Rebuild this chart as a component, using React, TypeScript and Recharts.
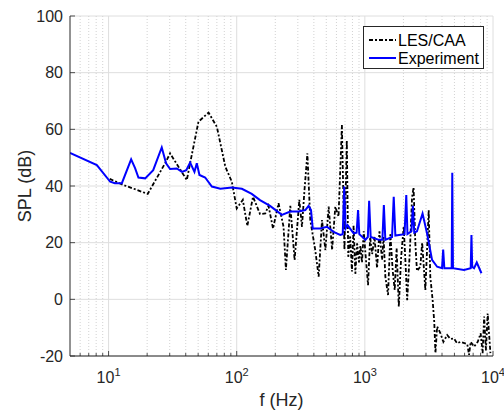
import { LineChart, Line, XAxis, YAxis, CartesianGrid, ReferenceLine, Legend } from 'recharts'

// LES/CAA prediction (dash-dot black)
const lesFreq = [10.2, 13, 20.2, 27.6, 30.2, 40.8, 43.8, 50.3, 60.3, 70, 81.5, 91.6, 100, 111.6, 121, 134, 152, 167, 177, 192, 212, 232, 242, 262, 283, 308, 323, 338, 356, 375, 410, 436, 463, 492, 522, 555, 588, 623, 662, 693, 723, 742, 768, 793, 817, 843, 870, 900, 923, 950, 980, 1020, 1059, 1100, 1140, 1190, 1245, 1300, 1362, 1400, 1445, 1517, 1581, 1650, 1710, 1770, 1840, 1920, 2010, 2080, 2140, 2250, 2335, 2400, 2475, 2550, 2710, 2800, 2965, 3150, 3240, 3380, 3480, 3555, 3665, 3890, 4100, 4390, 4650, 4950, 5250, 5590, 6300, 6500, 6700, 7115, 7600, 8015, 8300, 8530, 8800, 9090, 9545]
const lesSpl = [42.5, 40.4, 37.2, 48, 51.5, 42.1, 49.2, 62.7, 65.9, 60.9, 46.8, 41.5, 32.1, 35.1, 25.9, 36.2, 30.1, 30.3, 33, 25, 33.9, 25.6, 10.4, 33, 13.9, 35.1, 25.6, 38.6, 51.5, 28, 17.4, 8, 28, 17.4, 32.7, 17.4, 32.7, 29.2, 61.5, 17.4, 56.2, 15, 22.2, 9.8, 26, 9, 19.8, 13, 19, 13, 24, 14, 5, 22, 16, 22, 11, 24, 14, 22, 8, 1.5, 23, 10, 3.3, 18, -2.6, 15, 25.7, 12, -0.3, 18, 36, 39.5, 20, 10, 11.5, 20, 3.3, 31.5, 8, -0.3, -8, -19, -9.6, -12, -15, -12.6, -14, -13.8, -15.5, -15, -15.8, -19.6, -15, -16.7, -15, -12, -19, -6.1, -18, -5, -19]

// Experiment (solid blue)
const expFreq = [5, 8.1, 10.3, 11.2, 12.7, 15, 16.1, 17.1, 19.3, 22.3, 26, 28.1, 30.2, 34.1, 37.4, 40.4, 43.3, 46.8, 48.8, 51.2, 56.7, 64, 74.5, 91.6, 109.7, 131, 152, 182, 225, 262, 304, 343, 364, 380, 392, 449, 506, 570, 642, 672, 690, 708, 733, 817, 862, 885, 905, 1010, 1055, 1080, 1110, 1285, 1370, 1407, 1445, 1630, 1680, 1730, 2040, 2105, 2150, 2310, 2370, 2430, 2550, 2820, 3055, 3345, 3665, 4000, 4085, 4170, 4665, 4760, 4810, 4870, 5940, 6700, 6790, 6880, 7115, 7470, 8125]
const expSpl = [51.7, 47.4, 41.5, 41, 41, 49.4, 46.3, 43, 42.7, 45.6, 53.6, 48, 46, 46.2, 45, 45.6, 48.3, 45, 48, 43.9, 43, 39.8, 39, 39.5, 39, 37.2, 35, 33, 29.8, 31, 31, 31.5, 33, 31.5, 25, 25, 25.6, 23.8, 22.7, 23, 39.8, 25, 26.2, 23.3, 23.5, 31.5, 23, 21, 22, 34.8, 22, 21, 21, 33.3, 21, 22, 36.2, 22.5, 23, 36.8, 23, 24, 33, 23.5, 24, 30.3, 23.3, 13.9, 11.5, 11, 17.6, 11, 11, 11, 44.7, 11, 10.4, 11, 22.7, 11.5, 11, 13, 9.2]

const majorX = [10, 100, 1000, 10000]
const minorX = [6, 7, 8, 9, 20, 30, 40, 50, 60, 70, 80, 90, 200, 300, 400, 500, 600, 700, 800, 900, 2000, 3000, 4000, 5000, 6000, 7000, 8000, 9000]
const yTicks = [-20, 0, 20, 40, 60, 80, 100]

const lesData = lesFreq.map((f, i) => ({ f, spl: lesSpl[i] }))
const expData = expFreq.map((f, i) => ({ f, spl: expSpl[i] }))
const allX = [...minorX, ...majorX].sort((a, b) => a - b)

const FONT = '"Liberation Sans", Arial, sans-serif'
const INK = '#262626'

const BottomTick = (props: any) => {
  const { x, y, payload } = props
  const v = payload.value
  const major = majorX.includes(v)
  const exp = Math.round(Math.log10(v))
  return (
    <g>
      <line x1={x} x2={x} y1={y} y2={y - (major ? 5 : 3)} stroke={INK} strokeWidth={0.8} />
      {major && (
        <text x={x} y={y + 27} textAnchor="middle" fontFamily={FONT} fontSize={16} fill={INK}>
          10<tspan dy={-7} fontSize={11}>{exp}</tspan>
        </text>
      )}
    </g>
  )
}

const TopTick = (props: any) => {
  const { x, y, payload } = props
  const major = majorX.includes(payload.value)
  return <line x1={x} x2={x} y1={y} y2={y + (major ? 5 : 3)} stroke={INK} strokeWidth={0.8} />
}

const LeftTick = (props: any) => {
  const { x, y, payload } = props
  return (
    <g>
      <line x1={x} x2={x + 5} y1={y} y2={y} stroke={INK} strokeWidth={0.8} />
      <text x={x - 7} y={y + 5.5} textAnchor="end" fontFamily={FONT} fontSize={16} fill={INK}>
        {payload.value}
      </text>
    </g>
  )
}

const RightTick = (props: any) => {
  const { x, y } = props
  return <line x1={x} x2={x - 5} y1={y} y2={y} stroke={INK} strokeWidth={0.8} />
}

const YLabel = (props: any) => {
  const vb = props.viewBox
  const cx = vb.x + 31
  const cy = vb.y + vb.height / 2
  return (
    <text x={cx} y={cy} transform={`rotate(-90 ${cx} ${cy})`} textAnchor="middle" fontFamily={FONT} fontSize={18} fill={INK}>
      SPL (dB)
    </text>
  )
}

const XLabel = (props: any) => {
  const vb = props.viewBox
  return (
    <text x={vb.x + vb.width / 2} y={vb.y + 50} textAnchor="middle" fontFamily={FONT} fontSize={18} fill={INK}>
      f (Hz)
    </text>
  )
}

const LegendBox = () => (
  <div style={{ width: 119, height: 41, border: `1px solid ${INK}`, background: '#fff' }}>
    <svg width={119} height={41} style={{ display: 'block' }}>
      <line x1={5} x2={32} y1={13} y2={13} stroke="#000" strokeWidth={1.8} strokeDasharray="4 2 2 2" />
      <text x={34} y={19} fontFamily={FONT} fontSize={16} fill="#000">LES/CAA</text>
      <line x1={5} x2={32} y1={31} y2={31} stroke="#0000ff" strokeWidth={2} />
      <text x={34} y={37} fontFamily={FONT} fontSize={16} fill="#000">Experiment</text>
    </svg>
  </div>
)

export default function App() {
  return (
    <div style={{ position: 'absolute', left: 0, top: 0, width: 504, height: 412, background: '#fff' }}>
      <LineChart width={504} height={412} margin={{ top: 16, right: 11, bottom: 0, left: 0 }}>
        <CartesianGrid vertical={false} stroke="#dedede" />
        {minorX.map(v => (
          <ReferenceLine key={`mn-${v}`} x={v} stroke="#d2d2d2" strokeDasharray="1 2" />
        ))}
        {majorX.map(v => (
          <ReferenceLine key={`mj-${v}`} x={v} stroke="#dedede" />
        ))}
        <XAxis
          dataKey="f"
          type="number"
          scale="log"
          domain={[5, 10000]}
          allowDataOverflow
          ticks={allX}
          interval={0}
          height={56}
          tickSize={0}
          tickMargin={0}
          tickLine={false}
          axisLine={{ stroke: INK }}
          tick={<BottomTick />}
          label={<XLabel />}
        />
        <XAxis
          xAxisId="top"
          orientation="top"
          dataKey="f"
          type="number"
          scale="log"
          domain={[5, 10000]}
          allowDataOverflow
          ticks={allX}
          interval={0}
          height={0}
          tickSize={0}
          tickMargin={0}
          tickLine={false}
          axisLine={{ stroke: INK }}
          tick={<TopTick />}
        />
        <YAxis
          type="number"
          domain={[-20, 100]}
          allowDataOverflow
          ticks={yTicks}
          interval={0}
          width={70}
          tickSize={0}
          tickMargin={0}
          tickLine={false}
          axisLine={{ stroke: INK }}
          tick={<LeftTick />}
          label={<YLabel />}
        />
        <YAxis
          yAxisId="right"
          orientation="right"
          type="number"
          domain={[-20, 100]}
          allowDataOverflow
          ticks={yTicks}
          interval={0}
          width={0}
          tickSize={0}
          tickMargin={0}
          tickLine={false}
          axisLine={{ stroke: INK }}
          tick={<RightTick />}
        />
        <Line
          data={lesData}
          dataKey="spl"
          name="LES/CAA"
          type="linear"
          stroke="#000000"
          strokeWidth={1.8}
          strokeDasharray="4 2 2 2"
          dot={false}
          isAnimationActive={false}
        />
        <Line
          data={expData}
          dataKey="spl"
          name="Experiment"
          type="linear"
          stroke="#0000ff"
          strokeWidth={2}
          dot={false}
          isAnimationActive={false}
        />
        <Legend
          layout="horizontal"
          verticalAlign="middle"
          align="center"
          content={<LegendBox />}
          wrapperStyle={{ position: 'absolute', left: 363, top: 26, width: 121, height: 43 }}
        />
      </LineChart>
    </div>
  )
}
